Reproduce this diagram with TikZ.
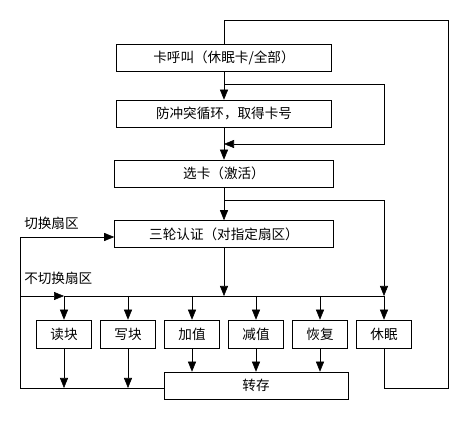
\documentclass[tikz,border=0pt]{standalone}
\usepackage{fontspec}
\newfontfamily\cjk{Noto Sans CJK SC}
\usetikzlibrary{positioning,arrows.meta}
\tikzset{
	->,>={Triangle[length=7.5pt,width=6pt]},
	line width=0.75pt,
	stepbox/.style ={draw, -, inner sep=0pt, minimum width=161.25pt, minimum height=20.25pt},
	widebox/.style ={stepbox, minimum width=164.25pt},
	opbox/.style ={stepbox, minimum width=41.25pt, minimum height=21pt},
	savebox/.style ={stepbox, minimum width=138pt},
	note/.style = {anchor=west, inner sep=0pt},
}
\begin{document}
\begin{tikzpicture}[x=0.75pt, y=-0.75pt, font=\cjk\fontsize{10.2}{12}\selectfont]
	\useasboundingbox (0,0) rectangle (467,423);
	\node (call)   [stepbox] at (224,57.5)  {卡呼叫（休眠卡/全部）};
	\node (anti)   [stepbox] at (224,113.5) {防冲突循环，取得卡号};
	\node (select) [widebox] at (224,173.5) {选卡（激活）};
	\node (auth)   [widebox] at (224,234)   {三轮认证（对指定扇区）};
	\foreach \name/\txt [count=\i] in {read/读块, write/写块, inc/加值, dec/减值, restore/恢复, halt/休眠}
		\node (\name) [opbox] at ({64*\i},334) {\txt};
	\node (transfer) [savebox] at (256,385.5) {转存};
	% labels
	\node (swlabel)   [note] at (24,223) {切换扇区};
	\node (noswlabel) [note] at (24,278) {不切换扇区};
	% corner points
	\coordinate (split) at (224,84);
	\coordinate (join)  at (224,144);
	\coordinate (fork)  at (224,200);
	\coordinate (bus)   at (20,296);
	\coordinate (switch) at (20,237);
	\coordinate (back)  at (20,388);
	\coordinate (rtop)  at (448,20);
	% main trunk
	\path (call) edge (anti);
	\draw (split) -- ++(160,0) |- (join);
	\path (anti) edge (select);
	\path (select) edge (auth);
	\draw (fork) -| (halt |- bus);
	\draw (auth) -- (auth |- bus);
	% bus to operations
	\draw (bus) -- (read |- bus);
	\draw[-] (read |- bus) -- (halt |- bus);
	\foreach \name in {read, write, inc, dec, restore, halt}
		\draw (\name |- bus) -- (\name);
	\foreach \name in {inc, dec, restore}
		\draw (\name) -- (\name |- transfer.north);
	\foreach \name in {read, write}
		\draw (\name) -- (\name |- back);
	% loops back
	\draw (transfer.west |- back) -- (back) -- (switch) -- (auth.west |- switch);
	\draw[-] (halt) -- (halt |- back) -| (rtop) -| (call.north);
\end{tikzpicture}
\end{document}
